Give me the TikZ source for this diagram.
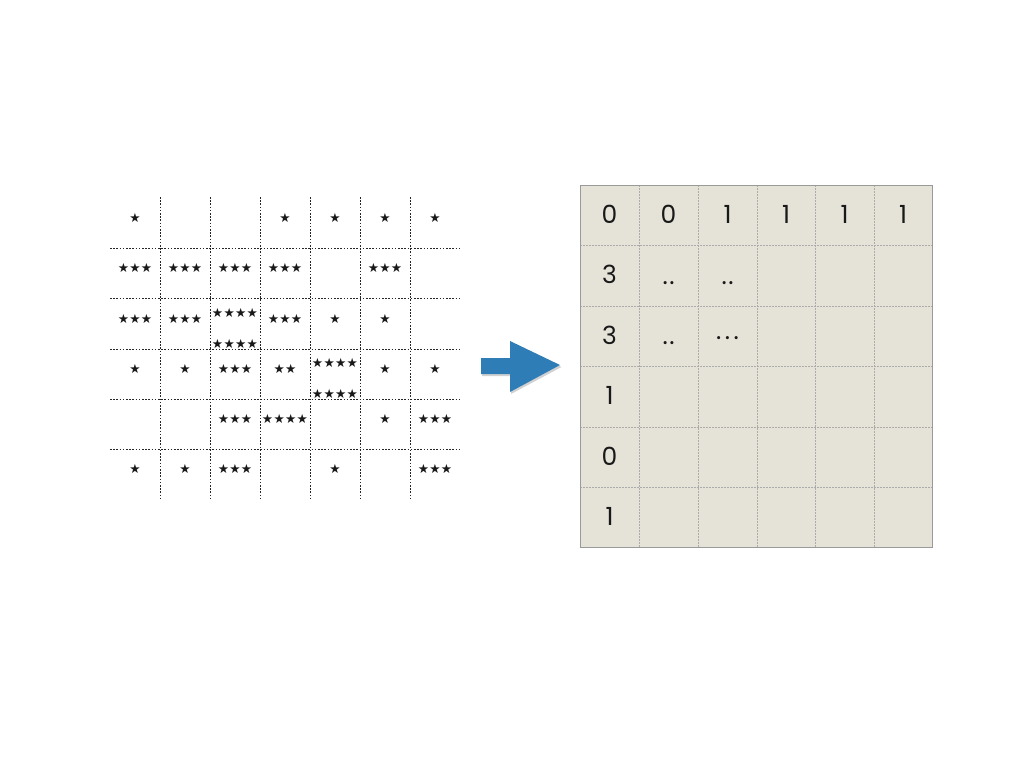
\documentclass[tikz,border=0pt]{standalone}
\usepackage{fontspec}
\setmainfont{Poppins}
\newfontfamily\starfont{DejaVu Sans}
\newcommand\sgap{\kern0.3pt}
\definecolor{arrowblue}{HTML}{2F7DB6}
\definecolor{beige}{HTML}{E5E3D7}
\definecolor{frame}{HTML}{9A9A9A}
\definecolor{inner}{HTML}{ABABAB}
\tikzset{
  ldash/.style={draw=black!85, line width=0.7pt, dash pattern=on 1.6pt off 1.6pt},
  rdash/.style={draw=inner, line width=0.6pt, dash pattern=on 1.6pt off 1.4pt},
  stars/.style={font=\starfont\fontsize{12.6}{15}\selectfont, inner sep=0pt, text=black!90},
  num/.style={font=\fontsize{25}{28}\selectfont, anchor=base, inner sep=0pt, text=black!90},
}
\begin{document}
\begin{tikzpicture}[x=1pt,y=-1pt]
\useasboundingbox (0,0) rectangle (1024,768);
% left grid
\foreach \x in {160,210,260,310,360,410} \draw[ldash] (\x,197) -- (\x,500);
\foreach \y in {248,298,349,399,449} \draw[ldash] (110,\y) -- (460,\y);
% row 1
\node[stars] (a11) at (135,218) {★};
\node[stars] (a14) at (285,218) {★};
\node[stars] (a15) at (335,218) {★};
\node[stars] (a16) at (385,218) {★};
\node[stars] (a17) at (435,218) {★};
% row 2
\node[stars] (a21) at (135,268) {★\sgap★\sgap★};
\node[stars] (a22) at (185,268) {★\sgap★\sgap★};
\node[stars] (a23) at (235,268) {★\sgap★\sgap★};
\node[stars] (a24) at (285,268) {★\sgap★\sgap★};
\node[stars] (a26) at (385,268) {★\sgap★\sgap★};
% row 3
\node[stars] (a31) at (135,319) {★\sgap★\sgap★};
\node[stars] (a32) at (185,319) {★\sgap★\sgap★};
\node[stars] (a33a) at (235,313) {★\sgap★\sgap★\sgap★};
\node[stars] (a33b) at (235,344) {★\sgap★\sgap★\sgap★};
\node[stars] (a34) at (285,319) {★\sgap★\sgap★};
\node[stars] (a35) at (335,319) {★};
\node[stars] (a36) at (385,319) {★};
% row 4
\node[stars] (a41) at (135,369) {★};
\node[stars] (a42) at (185,369) {★};
\node[stars] (a43) at (235,369) {★\sgap★\sgap★};
\node[stars] (a44) at (285,369) {★\sgap★};
\node[stars] (a45a) at (335,363) {★\sgap★\sgap★\sgap★};
\node[stars] (a45b) at (335,394) {★\sgap★\sgap★\sgap★};
\node[stars] (a46) at (385,369) {★};
\node[stars] (a47) at (435,369) {★};
% row 5
\node[stars] (a53) at (235,419) {★\sgap★\sgap★};
\node[stars] (a54) at (285,419) {★\sgap★\sgap★\sgap★};
\node[stars] (a56) at (385,419) {★};
\node[stars] (a57) at (435,419) {★\sgap★\sgap★};
% row 6
\node[stars] (a61) at (135,469) {★};
\node[stars] (a62) at (185,469) {★};
\node[stars] (a63) at (235,469) {★\sgap★\sgap★};
\node[stars] (a65) at (335,469) {★};
\node[stars] (a67) at (435,469) {★\sgap★\sgap★};
% arrow
\fill[black!18] (482,360) -- (511,360) -- (511,343) -- (561.5,367) -- (511,394) -- (511,376) -- (482,376) -- cycle;
\fill[arrowblue] (481,358) -- (510,358) -- (510,341) -- (560,365) -- (510,392) -- (510,374) -- (481,374) -- cycle;
% right grid
\fill[beige] (580,185) rectangle (932,547);
\foreach \x in {639,698,757,815,874} \draw[rdash] (\x,185) -- (\x,547);
\foreach \y in {245.5,306,366.5,427,487} \draw[rdash] (580,\y) -- (932,\y);
\draw[frame, line width=0.9pt] (580,185) rectangle (932,547);
% numbers (baseline = row centre + 8)
\node[num] (b11) at (609.5,223) {0};
\node[num] (b12) at (668.5,223) {0};
\node[num] (b13) at (727.5,223) {1};
\node[num] (b14) at (786,223) {1};
\node[num] (b15) at (844.5,223) {1};
\node[num] (b16) at (903,223) {1};
\node[num] (b21) at (609.5,283.5) {3};
\node[num] (b22) at (668.5,284) {.\kern1.5pt.};
\node[num] (b23) at (727.5,284) {.\kern1.5pt.};
\node[num] (b31) at (609.5,344) {3};
\node[num] (b32) at (668.5,344) {.\kern1.5pt.};
\node[num] (b33) at (727.5,339) {.\kern3.5pt.\kern3.5pt.};
\node[num] (b41) at (609.5,404.5) {1};
\node[num] (b51) at (609.5,465) {0};
\node[num] (b61) at (609.5,525) {1};
\end{tikzpicture}
\end{document}
